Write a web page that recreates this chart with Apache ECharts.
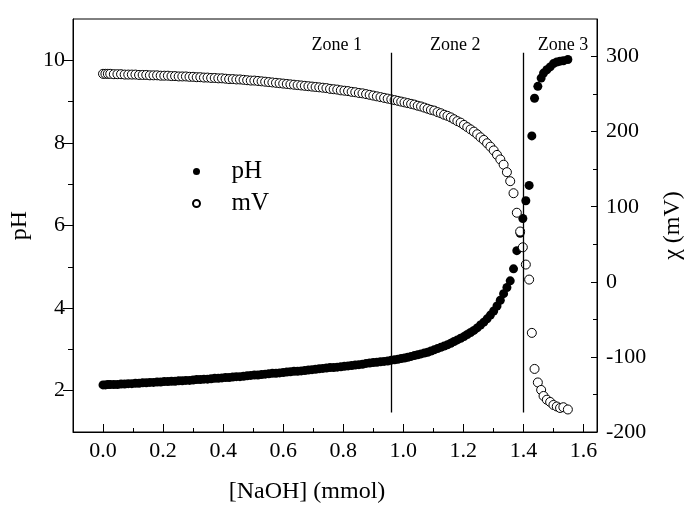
<!DOCTYPE html>
<html>
<head>
<meta charset="utf-8">
<script src="https://cdn.jsdelivr.net/npm/echarts@6/dist/echarts.min.js"></script>
<style>
html,body{margin:0;padding:0;background:#fff;}
#chart{width:694px;height:516px;}
</style>
</head>
<body>
<div id="chart"></div>
<script>
// ---- data ----
const naohMmol = [
0.000,0.008,0.016,0.024,0.036,0.048,0.060,0.072,0.084,0.096,
0.108,0.120,0.132,0.144,0.156,0.168,0.180,0.192,0.204,0.216,
0.228,0.240,0.252,0.264,0.276,0.288,0.300,0.312,0.324,0.336,
0.348,0.360,0.372,0.384,0.396,0.408,0.420,0.432,0.444,0.456,
0.468,0.480,0.492,0.504,0.516,0.528,0.540,0.552,0.564,0.576,
0.588,0.600,0.612,0.624,0.636,0.648,0.660,0.672,0.684,0.696,
0.708,0.720,0.732,0.744,0.756,0.768,0.780,0.792,0.804,0.816,
0.828,0.840,0.852,0.864,0.876,0.888,0.900,0.912,0.924,0.936,
0.948,0.960,
0.971,0.982,0.993,1.004,1.015,1.026,1.037,1.048,1.059,1.070,
1.081,1.092,1.103,1.114,1.125,1.136,1.147,1.158,1.169,1.180,
1.191,1.202,1.213,1.224,1.235,1.246,1.257,1.268,1.279,1.290,
1.301,1.312,1.323,1.334,1.345,1.356,1.367,1.378,1.389,
1.398,1.408,1.419,1.428,1.437,1.448,1.459,1.467,1.478,1.489,
1.500,1.511,1.522,1.533,1.548
];
const phValues = [
2.14,2.14,2.15,2.15,2.15,2.15,2.16,2.16,2.17,2.17,
2.18,2.18,2.19,2.19,2.20,2.20,2.21,2.21,2.22,2.22,
2.23,2.23,2.24,2.24,2.25,2.25,2.26,2.27,2.27,2.28,
2.28,2.29,2.30,2.30,2.31,2.32,2.32,2.33,2.34,2.34,
2.35,2.36,2.37,2.38,2.38,2.39,2.40,2.41,2.42,2.42,
2.43,2.44,2.45,2.46,2.47,2.47,2.48,2.49,2.50,2.51,
2.52,2.53,2.54,2.55,2.56,2.56,2.57,2.58,2.59,2.60,
2.61,2.62,2.63,2.64,2.66,2.67,2.68,2.69,2.70,2.71,
2.72,2.74,
2.75,2.76,2.78,2.79,2.81,2.83,2.85,2.87,2.89,2.91,
2.93,2.96,2.99,3.02,3.05,3.08,3.11,3.15,3.19,3.23,
3.27,3.31,3.36,3.41,3.46,3.52,3.59,3.66,3.74,3.83,
3.93,4.05,4.19,4.35,4.50,4.66,4.95,5.39,5.81,
6.17,6.60,6.97,8.17,9.08,9.37,9.57,9.69,9.77,9.84,
9.92,9.96,9.98,9.99,10.02
];
const mvValues = [
277,277,277,277,276.5,276.5,276.5,276,276,276,
276,275.5,275.5,275.5,275,275,275,274.5,274.5,274.5,
274,274,273.5,273.5,273.5,273,273,272.5,272.5,272,
272,271.5,271.5,271,271,270.5,270,270,269.5,269.5,
269,268.5,268,268,267.5,267,266.5,266,265.5,265,
264.5,264,263.5,263,262.5,262,261.5,261,260.5,260,
259.5,259,258.5,258,257,256.5,256,255,254.5,254,
253,252.5,251.5,251,250,249,248,247,246,245,
244,243,
242,241,240,239,238,237,236,234.5,233.5,232,
230.5,229,228,226,224.5,222.5,221,219,216.5,214,
212,209,206,203,200,196.5,192.5,189,184.5,180,
175,169,163,156,146,134,118,92,67,
46,23,3,-68,-116,-134,-144,-152,-157,-160,
-164,-166,-168,-167,-170
];
const xMajorTicks = [0,0.2,0.4,0.6,0.8,1.0,1.2,1.4,1.6];
const xMinorTicks = [0.1,0.3,0.5,0.7,0.9,1.1,1.3,1.5];
const phMajorTicks = [2,4,6,8,10];
const phMinorTicks = [3,5,7,9];
const mvMajorTicks = [-200,-100,0,100,200,300];
const mvMinorTicks = [-150,-50,50,150,250];
const zoneBoundaries = [0.96,1.40];
const zoneLineSpan = [1.47,10.18];
const zoneNames = ['Zone 1','Zone 2','Zone 3'];
const zoneLabelX = [0.778,1.173,1.532];
const zoneLabelPH = 10.37;
const seriesNames = ['pH','mV'];

// ---- chart ----
const FONT = "'Liberation Serif','Times New Roman',serif";
const black = '#000';
const n = Math.min(naohMmol.length, phValues.length, mvValues.length);
const phData = [], mvData = [];
for (let i = 0; i < n; i++) {
  phData.push([naohMmol[i], phValues[i]]);
  mvData.push([naohMmol[i], mvValues[i]]);
}
const X_MIN = -0.1, X_MAX = 1.645, PH_MIN = 1, PH_MAX = 11, MV_MIN = -200, MV_MAX = 350;

const chart = echarts.init(document.getElementById('chart'), null, {renderer: 'canvas'});
chart.setOption({
  animation: false,
  backgroundColor: '#fff',
  grid: {left: 73, right: 97, top: 19, bottom: 84, show: true, borderColor: black, borderWidth: 1,
         containLabel: false, outerBoundsMode: 'none'},
  legend: {
    data: seriesNames, orient: 'vertical', left: 187, top: 154,
    itemWidth: 60, itemHeight: 7, itemGap: 7,
    textStyle: {fontSize: 25, fontFamily: FONT, color: black}
  },
  xAxis: [
    {type: 'value', min: X_MIN, max: X_MAX, position: 'bottom',
     axisLine: {show: true, onZero: false, lineStyle: {color: black, width: 1}},
     axisTick: {show: true, inside: true, length: 8, customValues: xMajorTicks, lineStyle: {color: black, width: 1}},
     axisLabel: {show: true, customValues: xMajorTicks, formatter: v => v.toFixed(1), fontSize: 22, fontFamily: FONT, color: black, margin: 8},
     splitLine: {show: false},
     name: '[NaOH] (mmol)', nameLocation: 'middle', nameGap: 48,
     nameTextStyle: {fontSize: 24, fontFamily: FONT, color: black, padding: [0, 56, 0, 0]}},
    {type: 'value', min: X_MIN, max: X_MAX, position: 'bottom',
     axisLine: {show: false, onZero: false},
     axisTick: {show: true, inside: true, length: 4, customValues: xMinorTicks, lineStyle: {color: black, width: 1}},
     axisLabel: {show: false}, splitLine: {show: false}}
  ],
  yAxis: [
    {type: 'value', min: PH_MIN, max: PH_MAX, position: 'left',
     axisLine: {show: true, onZero: false, lineStyle: {color: black, width: 1}},
     axisTick: {show: true, inside: false, length: 10, customValues: phMajorTicks, lineStyle: {color: black, width: 1}},
     axisLabel: {show: true, customValues: phMajorTicks, fontSize: 22, fontFamily: FONT, color: black, margin: 8},
     splitLine: {show: false},
     name: 'pH', nameLocation: 'middle', nameGap: 39, nameRotate: 90,
     nameTextStyle: {fontSize: 24, fontFamily: FONT, color: black}},
    {type: 'value', min: PH_MIN, max: PH_MAX, position: 'left',
     axisLine: {show: false, onZero: false},
     axisTick: {show: true, inside: false, length: 5, customValues: phMinorTicks, lineStyle: {color: black, width: 1}},
     axisLabel: {show: false}, splitLine: {show: false}},
    {type: 'value', min: MV_MIN, max: MV_MAX, position: 'right',
     axisLine: {show: true, onZero: false, lineStyle: {color: black, width: 1}},
     axisTick: {show: true, inside: true, length: 6, customValues: mvMajorTicks, lineStyle: {color: black, width: 1}},
     axisLabel: {show: true, customValues: mvMajorTicks, fontSize: 22, fontFamily: FONT, color: black, margin: 9},
     splitLine: {show: false},
     name: 'χ (mV)', nameLocation: 'middle', nameGap: 64, nameRotate: 90,
     nameTextStyle: {fontSize: 24, fontFamily: FONT, color: black}},
    {type: 'value', min: MV_MIN, max: MV_MAX, position: 'right',
     axisLine: {show: false, onZero: false},
     axisTick: {show: true, inside: true, length: 4, customValues: mvMinorTicks, lineStyle: {color: black, width: 1}},
     axisLabel: {show: false}, splitLine: {show: false}}
  ],
  series: [
    {name: 'pH', type: 'scatter', xAxisIndex: 0, yAxisIndex: 0, data: phData,
     symbol: 'circle', symbolSize: 9, itemStyle: {color: black, opacity: 1},
     emphasis: {disabled: true},
     markLine: {silent: true, symbol: ['none', 'none'], label: {show: false},
       lineStyle: {color: black, width: 1.3, type: 'solid'},
       data: zoneBoundaries.map(x => [{coord: [x, zoneLineSpan[0]]}, {coord: [x, zoneLineSpan[1]]}])},
     markPoint: {silent: true, symbol: 'circle', symbolSize: 1, itemStyle: {color: 'rgba(0,0,0,0)'},
       label: {show: true, position: 'inside', formatter: '{b}', color: black, fontSize: 18, fontFamily: FONT},
       data: zoneNames.map((nm, i) => ({name: nm, coord: [zoneLabelX[i], zoneLabelPH]}))}
    },
    {name: 'mV', type: 'scatter', xAxisIndex: 0, yAxisIndex: 2, data: mvData,
     symbol: 'circle', symbolSize: 9, itemStyle: {color: '#fff', borderColor: black, borderWidth: 1, opacity: 1},
     emphasis: {disabled: true}}
  ]
});
</script>
</body>
</html>
